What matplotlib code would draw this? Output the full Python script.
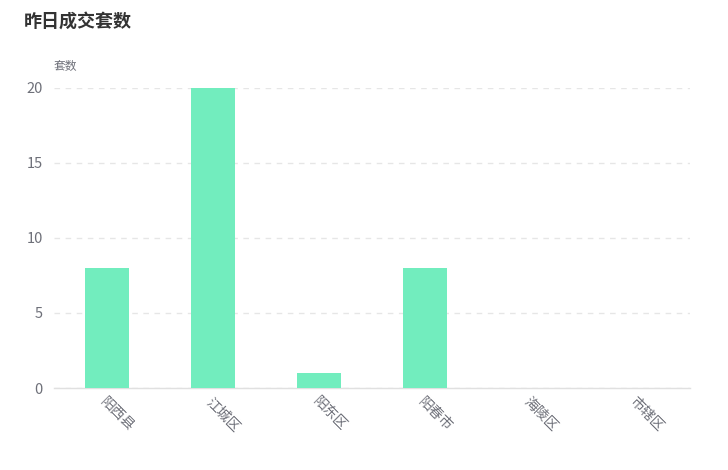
import matplotlib.pyplot as plt

plt.rcParams['font.family'] = ['Noto Sans CJK SC', 'DejaVu Sans']

districts = ["阳西县", "江城区", "阳东区", "阳春市", "海陵区", "市辖区"]
deals = [8, 20, 1, 8, 0, 0]
yticks = [0, 5, 10, 15, 20]

fig = plt.figure(figsize=(7.28, 4.70), dpi=100)
ax = fig.add_axes([54/728, 82/470, 636/728, 300/470])

x = list(range(len(districts)))
ax.bar(x, deals, width=0.42, color='#72EDBE', zorder=3)

ax.set_xlim(-0.5, len(districts) - 0.5)
ax.set_ylim(0, 20)
ax.set_yticks(yticks)
ax.set_yticklabels([str(v) for v in yticks])
ax.grid(axis='y', color='#E6E6E6', linestyle=(0, (4, 4)), linewidth=1)

for s in ['top', 'right', 'left']:
    ax.spines[s].set_visible(False)
ax.spines['bottom'].set_color('#E0E0E0')
ax.spines['bottom'].set_linewidth(1)

ax.tick_params(axis='y', length=0, pad=8, labelsize=10.5, labelcolor='#6E7079')
ax.tick_params(axis='x', length=0, pad=5)
ax.set_xticks(x)
ax.set_xticklabels(districts, rotation=-45, ha='left', va='top',
                   rotation_mode='anchor', fontsize=10, color='#6E7079')
for lbl in ax.get_xticklabels():
    lbl.set_x(lbl.get_position()[0])

fig.text(54/728, 1 - 66/470, "套数", fontsize=8.5, color='#6E7079',
         ha='left', va='center')
fig.text(24/728, 1 - 21/470, "昨日成交套数", fontsize=13, fontweight='bold',
         color='#333333', ha='left', va='center')

fig.savefig("out.png", dpi=100)
